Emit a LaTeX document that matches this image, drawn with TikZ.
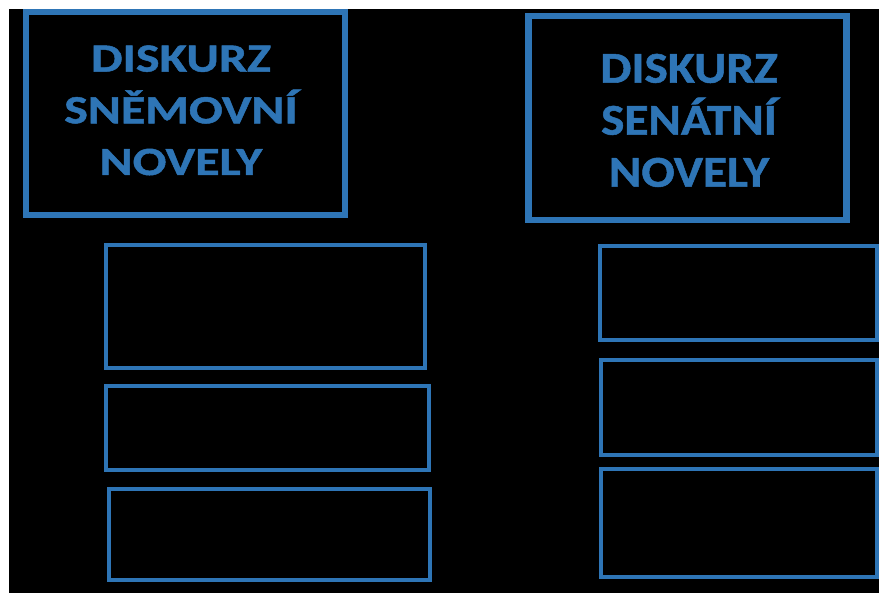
\documentclass[tikz,border=0pt]{standalone}
\usepackage{fontspec}
\newfontfamily\hdleft[FakeStretch=1.25,FakeBold=1.2,BoldFont=Carlito Bold]{Carlito}
\newfontfamily\hdright[FakeStretch=1.12,FakeBold=1.2,BoldFont=Carlito Bold]{Carlito}
\definecolor{boxblue}{RGB}{46,117,182}
\tikzset{
  box/.style={draw=boxblue, rectangle, inner sep=0pt, outer sep=0pt},
  bigbox/.style={box, line width=6.2pt},
  smallbox/.style={box, line width=4pt},
  title/.style={text=boxblue, align=center, inner sep=0pt, anchor=base},
}
\begin{document}
\begin{tikzpicture}[x=1pt,y=-1pt]
\useasboundingbox (0,0) rectangle (879,593);
\fill[white] (0,0) rectangle (879,593);
\fill[black] (9,9) rectangle (879,593);
% title boxes
\node[bigbox, minimum width=319pt, minimum height=203pt] (b1) at (185.5,113.5) {};
\node[bigbox, minimum width=318pt, minimum height=204pt] (b2) at (687.5,118) {};
\node[title, font=\hdleft\bfseries\fontsize{40}{51.7}\selectfont] (t1) at (181,175) {DISKURZ\\SNĚMOVNÍ\\NOVELY};
\node[title, font=\hdright\bfseries\fontsize{44}{52}\selectfont] (t2) at (689,186.7) {DISKURZ\\SENÁTNÍ\\NOVELY};
% empty boxes, left column
\node[smallbox, minimum width=319pt, minimum height=122.5pt] (b3) at (265.5,306.75) {};
\node[smallbox, minimum width=323pt, minimum height=84.5pt] (b4) at (267.5,428.25) {};
\node[smallbox, minimum width=321.3pt, minimum height=90.5pt] (b5) at (269.35,534.75) {};
% empty boxes, right column
\node[smallbox, minimum width=277.5pt, minimum height=94pt] (b6) at (738.25,293.5) {};
\node[smallbox, minimum width=276.5pt, minimum height=94.5pt] (b7) at (738.75,407.75) {};
\node[smallbox, minimum width=276.5pt, minimum height=108.5pt] (b8) at (738.75,523.25) {};
\end{tikzpicture}
\end{document}
